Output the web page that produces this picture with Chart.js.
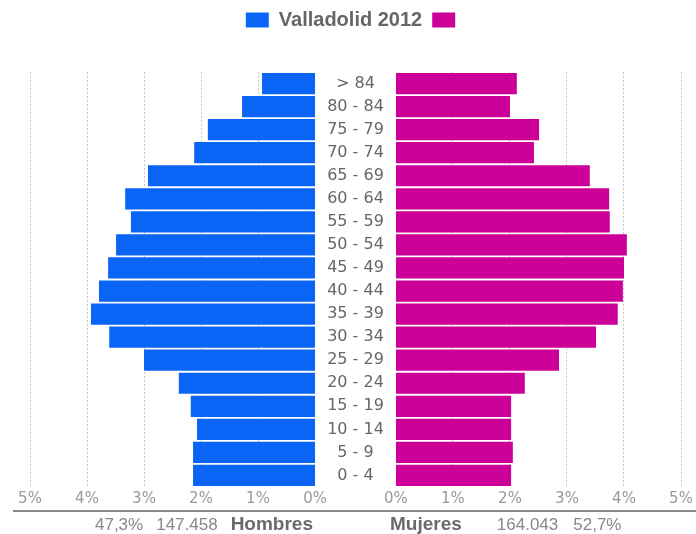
<!DOCTYPE html>
<html>
<head>
<meta charset="utf-8">
<script src="https://cdn.jsdelivr.net/npm/chart.js@4"></script>
<style>
  body { margin: 0; background: #fff; }
  #wrap { position: relative; width: 696px; height: 534px; }
  #myChart { position: absolute; left: 0; top: 0; }
  .rule { position: absolute; left: 13px; right: 0; top: 510px; height: 2px; background: #8a8a8a; }
  .totals { position: absolute; top: 514px; font: 17px "Liberation Sans", Arial, sans-serif; color: #888; line-height: 20px; white-space: nowrap; }
  .totals b { font-size: 19px; color: #6a6a6a; }
  #left { right: 383px; text-align: right; }
  #right { left: 390px; }
</style>
</head>
<body>
<div id="wrap">
  <canvas id="myChart" width="696" height="534"></canvas>
  <div class="rule"></div>
  <div class="totals" id="left"><span>47,3%</span><span style="margin-left:13px">147.458</span><b style="margin-left:13px">Hombres</b></div>
  <div class="totals" id="right"><b>Mujeres</b><span style="margin-left:35px">164.043</span><span style="margin-left:15px">52,7%</span></div>
</div>
<script>
'use strict'

//data
const ageGroups = ['> 84', '80 - 84', '75 - 79', '70 - 74', '65 - 69', '60 - 64', '55 - 59', '50 - 54', '45 - 49',
  '40 - 44', '35 - 39', '30 - 34', '25 - 29', '20 - 24', '15 - 19', '10 - 14', '5 - 9', '0 - 4'];
const hombres = [0.93, 1.28, 1.88, 2.12, 2.93, 3.33, 3.23, 3.49, 3.63, 3.79, 3.93, 3.61, 3.00, 2.39, 2.18, 2.07, 2.14, 2.14];
const mujeres = [2.12, 2.00, 2.51, 2.42, 3.40, 3.74, 3.75, 4.05, 4.00, 3.98, 3.89, 3.51, 2.86, 2.26, 2.02, 2.02, 2.05, 2.02];
const tickPercents = [0, 1, 2, 3, 4, 5];
const legendLabel = 'Valladolid 2012';

// half of the empty band in the middle, in % units
const gap = 0.71;

// each side starts at the edge of the middle band
let menBars = hombres.map(v => [-gap, -gap - v]);
let womenBars = mujeres.map(v => [gap, gap + v]);

let tickValues = [];
for (let i = tickPercents.length - 1; i >= 0; i--) {
  tickValues.push(-gap - tickPercents[i]);
}
for (let i = 0; i < tickPercents.length; i++) {
  tickValues.push(gap + tickPercents[i]);
}

function tickLabel(value) {
  return Math.round(Math.abs(value) - gap) + '%';
}

//plugins
const legendGap = {
  id: 'legendGap',
  beforeInit(chart) {
    const fit = chart.legend.fit;
    chart.legend.fit = function () {
      fit.bind(chart.legend)();
      this.height += 32;
    };
  }
};

const centerLabels = {
  id: 'centerLabels',
  afterDatasetsDraw(chart) {
    const ctx = chart.ctx;
    const x = chart.scales.x;
    const y = chart.scales.y;
    ctx.save();
    ctx.font = '16px "DejaVu Sans"';
    ctx.fillStyle = '#666';
    ctx.textAlign = 'center';
    ctx.textBaseline = 'middle';
    for (let i = 0; i < ageGroups.length; i++) {
      ctx.fillText(ageGroups[i], x.getPixelForValue(0), y.getPixelForValue(i));
    }
    ctx.restore();
  }
};

//chart
const data = {
  labels: ageGroups,
  datasets: [{
    label: legendLabel,
    data: menBars,
    backgroundColor: '#0a64f5',
    borderWidth: 0,
    grouped: false,
    barPercentage: 0.92,
    categoryPercentage: 1
  },
  {
    label: '',
    data: womenBars,
    backgroundColor: '#cc0099',
    borderWidth: 0,
    grouped: false,
    barPercentage: 0.92,
    categoryPercentage: 1
  }]
};

const config = {
  type: 'bar',
  data: data,
  options: {
    indexAxis: 'y',
    responsive: false,
    animation: false,
    layout: {
      padding: { left: 30, right: 15, top: 0, bottom: 23 }
    },
    scales: {
      x: {
        min: -gap - 5,
        max: gap + 5,
        afterBuildTicks: scale => {
          scale.ticks = tickValues.map(v => ({ value: v }));
        },
        ticks: {
          callback: value => tickLabel(value),
          color: '#999',
          font: { family: 'DejaVu Sans', size: 15 },
          padding: 3,
          maxRotation: 0,
          autoSkip: false
        },
        grid: {
          color: ctx => (ctx.tick && Math.abs(Math.abs(ctx.tick.value) - gap) < 0.01) ? 'rgba(0,0,0,0)' : '#c8c8c8',
          drawTicks: false
        },
        border: { display: false, dash: [2, 2] }
      },
      y: {
        display: false
      }
    },
    plugins: {
      legend: {
        position: 'top',
        labels: {
          boxWidth: 23,
          boxHeight: 15,
          color: '#666',
          padding: 10,
          font: { family: 'Liberation Sans', size: 20, weight: 'bold' }
        }
      },
      tooltip: { enabled: false }
    }
  },
  plugins: [legendGap, centerLabels]
};

let canvasChart = document.getElementById('myChart');
const myChart = new Chart(canvasChart, config);
</script>
</body>
</html>
